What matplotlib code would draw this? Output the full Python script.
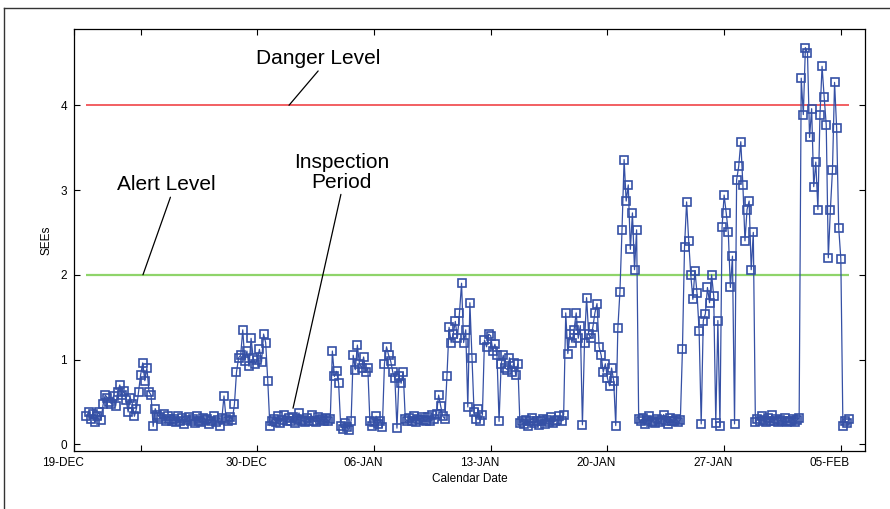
import matplotlib
matplotlib.use('Agg')
import matplotlib.pyplot as plt
import matplotlib.dates as mdates
from matplotlib.lines import Line2D
from matplotlib.transforms import ScaledTranslation
import numpy as np
import pandas as pd

plt.rcParams['font.family'] = ['Liberation Sans', 'DejaVu Sans']

# SEEs readings, one every 3 hours, starting 19-Dec 18:00
start = '2007-12-19 18:00'
step = '3h'
sees = [
    0.33, 0.38,                                       # 19-Dec
    0.30, 0.36, 0.26, 0.33, 0.38, 0.29, 0.47, 0.58,   # 20-Dec
    0.55, 0.50, 0.48, 0.57, 0.45, 0.62, 0.70, 0.58,   # 21-Dec
    0.63, 0.52, 0.38, 0.55, 0.48, 0.33, 0.42, 0.62,   # 22-Dec
    0.82, 0.96, 0.75, 0.90, 0.62, 0.58, 0.21, 0.42,   # 23-Dec
    0.35, 0.32, 0.30, 0.36, 0.28, 0.33, 0.30, 0.27,   # 24-Dec
    0.30, 0.26, 0.33, 0.28, 0.31, 0.24, 0.29, 0.32,   # 25-Dec
    0.27, 0.30, 0.25, 0.33, 0.28, 0.26, 0.31, 0.29,   # 26-Dec
    0.30, 0.24, 0.28, 0.33, 0.26, 0.29, 0.22, 0.31,   # 27-Dec
    0.57, 0.30, 0.27, 0.32, 0.29, 0.47, 0.85, 1.02,   # 28-Dec
    1.05, 1.35, 0.98, 1.10, 0.92, 1.25, 1.02, 0.95,   # 29-Dec
    1.00, 1.12, 0.97, 1.30, 1.20, 0.75, 0.22, 0.28,   # 30-Dec
    0.30, 0.26, 0.33, 0.25, 0.29, 0.35, 0.27, 0.31,   # 31-Dec
    0.28, 0.32, 0.25, 0.30, 0.37, 0.27, 0.29, 0.26,   # 01-Jan
    0.31, 0.27, 0.34, 0.28, 0.26, 0.32, 0.29, 0.30,   # 02-Jan
    0.28, 0.31, 0.27, 0.30, 1.10, 0.80, 0.86, 0.72,   # 03-Jan
    0.22, 0.18, 0.25, 0.20, 0.17, 0.28, 1.05, 0.88,   # 04-Jan
    1.17, 0.95, 0.90, 1.03, 0.85, 0.90, 0.28, 0.22,   # 05-Jan
    0.26, 0.33, 0.24, 0.28, 0.20, 0.95, 1.15, 1.05,   # 06-Jan
    0.98, 0.85, 0.78, 0.19, 0.80, 0.72, 0.85, 0.30,   # 07-Jan
    0.27, 0.31, 0.28, 0.33, 0.26, 0.30, 0.29, 0.32,   # 08-Jan
    0.29, 0.27, 0.32, 0.28, 0.34, 0.30, 0.36, 0.58,   # 09-Jan
    0.45, 0.33, 0.30, 0.81, 1.38, 1.20, 1.30, 1.45,   # 10-Jan
    1.25, 1.55, 1.90, 1.20, 1.35, 0.44, 1.67, 1.02,   # 11-Jan
    0.38, 0.30, 0.42, 0.28, 0.35, 1.23, 1.15, 1.30,   # 12-Jan
    1.28, 1.10, 1.18, 1.05, 0.27, 0.95, 1.05, 0.90,   # 13-Jan
    0.88, 1.02, 0.85, 0.96, 0.82, 0.95, 0.25, 0.28,   # 14-Jan
    0.24, 0.29, 0.22, 0.27, 0.31, 0.25, 0.28, 0.23,   # 15-Jan
    0.27, 0.30, 0.24, 0.29, 0.26, 0.32, 0.25, 0.28,   # 16-Jan
    0.29, 0.33, 0.27, 0.35, 1.55, 1.07, 1.30, 1.20,   # 17-Jan
    1.35, 1.55, 1.25, 1.40, 0.23, 1.20, 1.73, 1.30,   # 18-Jan
    1.25, 1.38, 1.55, 1.66, 1.15, 1.05, 0.85, 0.95,   # 19-Jan
    0.78, 0.69, 0.90, 0.75, 0.22, 1.37, 1.80, 2.53,   # 20-Jan
    3.36, 2.87, 3.06, 2.30, 2.73, 2.06, 2.53, 0.30,   # 21-Jan
    0.27, 0.31, 0.24, 0.29, 0.33, 0.26, 0.28, 0.25,   # 22-Jan
    0.30, 0.26, 0.29, 0.35, 0.27, 0.24, 0.31, 0.28,   # 23-Jan
    0.27, 0.30, 0.26, 0.29, 1.12, 2.33, 2.86, 2.40,   # 24-Jan
    2.00, 1.71, 2.05, 1.78, 1.34, 0.24, 1.46, 1.54,   # 25-Jan
    1.85, 1.67, 2.00, 1.75, 0.25, 1.46, 0.22, 2.56,   # 26-Jan
    2.94, 2.73, 2.50, 1.85, 2.22, 0.24, 3.12, 3.28,   # 27-Jan
    3.57, 3.06, 2.40, 2.77, 2.87, 2.06, 2.50, 0.26,   # 28-Jan
    0.30, 0.27, 0.33, 0.29, 0.26, 0.31, 0.28, 0.35,   # 29-Jan
    0.28, 0.30, 0.26, 0.29, 0.27, 0.31, 0.26, 0.28,   # 30-Jan
    0.27, 0.30, 0.26, 0.29, 0.31, 4.32, 3.89, 4.68,   # 31-Jan
    4.62, 3.62, 3.96, 3.04, 3.33, 2.77, 3.89, 4.46,   # 01-Feb
    4.10, 3.77, 2.20, 2.77, 3.24, 4.27, 3.73, 2.55,   # 02-Feb
    2.19, 0.22, 0.28, 0.25, 0.30,                     # 03-Feb
]

alert_level = 2
danger_level = 4

tick_dates = ['2007-12-19', '2007-12-23', '2007-12-30', '2008-01-06',
              '2008-01-13', '2008-01-20', '2008-01-27', '2008-02-03']
tick_labels = ['19-DEC', '', '30-DEC', '06-JAN', '13-JAN', '20-JAN', '27-JAN', '05-FEB']
yticks = [0, 1, 2, 3, 4]

times = pd.date_range(start, periods=len(sees), freq=step)
t0 = mdates.date2num(pd.Timestamp('2007-12-19'))


def day(d):
    return t0 + d


fig = plt.figure(figsize=(8.9, 5.09), dpi=100)
ax = fig.add_axes([0.0831, 0.1139, 0.8888, 0.8291])

ax.hlines(danger_level, times[0], times[-1], color='#f25f62', lw=1.4, zorder=1)
ax.hlines(alert_level, times[0], times[-1], color='#8fd46a', lw=1.6, zorder=1)

ax.plot(times, sees, color='#3550a5', lw=0.9, marker='s', markersize=5.2,
        markerfacecolor='none', markeredgecolor='#3550a5', markeredgewidth=1.2,
        zorder=2)

ax.set_xlim(day(0), day(47.45))
ax.set_ylim(-0.08, 4.9)
ax.set_xticks([mdates.date2num(pd.Timestamp(d)) for d in tick_dates])
ax.set_xticklabels(tick_labels)
ax.set_yticks(yticks)
ax.tick_params(direction='in', top=True, right=True, length=4.5, width=0.8,
               labelsize=8.5)
ax.tick_params(axis='x', pad=4)
ax.tick_params(axis='y', pad=5)
for lab in ax.get_xticklabels():
    lab.set_transform(lab.get_transform() + ScaledTranslation(-0.11, 0, fig.dpi_scale_trans))
for sp in ax.spines.values():
    sp.set_linewidth(0.9)

ax.set_xlabel('Calendar Date', fontsize=8.5, labelpad=3)
ax.set_ylabel('SEEs', fontsize=8.5, labelpad=6)

line = dict(arrowstyle='-', color='black', lw=0.9, shrinkA=0, shrinkB=0)
ax.annotate('Danger Level', xy=(day(12.9), danger_level), xytext=(day(14.64), 4.55),
            ha='center', va='center', fontsize=15,
            arrowprops=dict(line, relpos=(0.52, 0)))
ax.annotate('Alert Level', xy=(day(4.14), alert_level), xytext=(day(5.55), 3.06),
            ha='center', va='center', fontsize=15,
            arrowprops=dict(line, relpos=(0.55, 0)))
ax.annotate('Inspection\nPeriod', xy=(day(13.14), 0.425), xytext=(day(16.05), 3.21),
            ha='center', va='center', fontsize=15, linespacing=1.05,
            arrowprops=dict(line, relpos=(0.5, 0)))

# outer frame, top and left edges only
fig.add_artist(Line2D([0.0045, 0.0045], [0.0, 0.984], color='#333333', lw=1.0))
fig.add_artist(Line2D([0.0045, 1.0], [0.984, 0.984], color='#333333', lw=1.0))

fig.savefig('out.png', dpi=100)
